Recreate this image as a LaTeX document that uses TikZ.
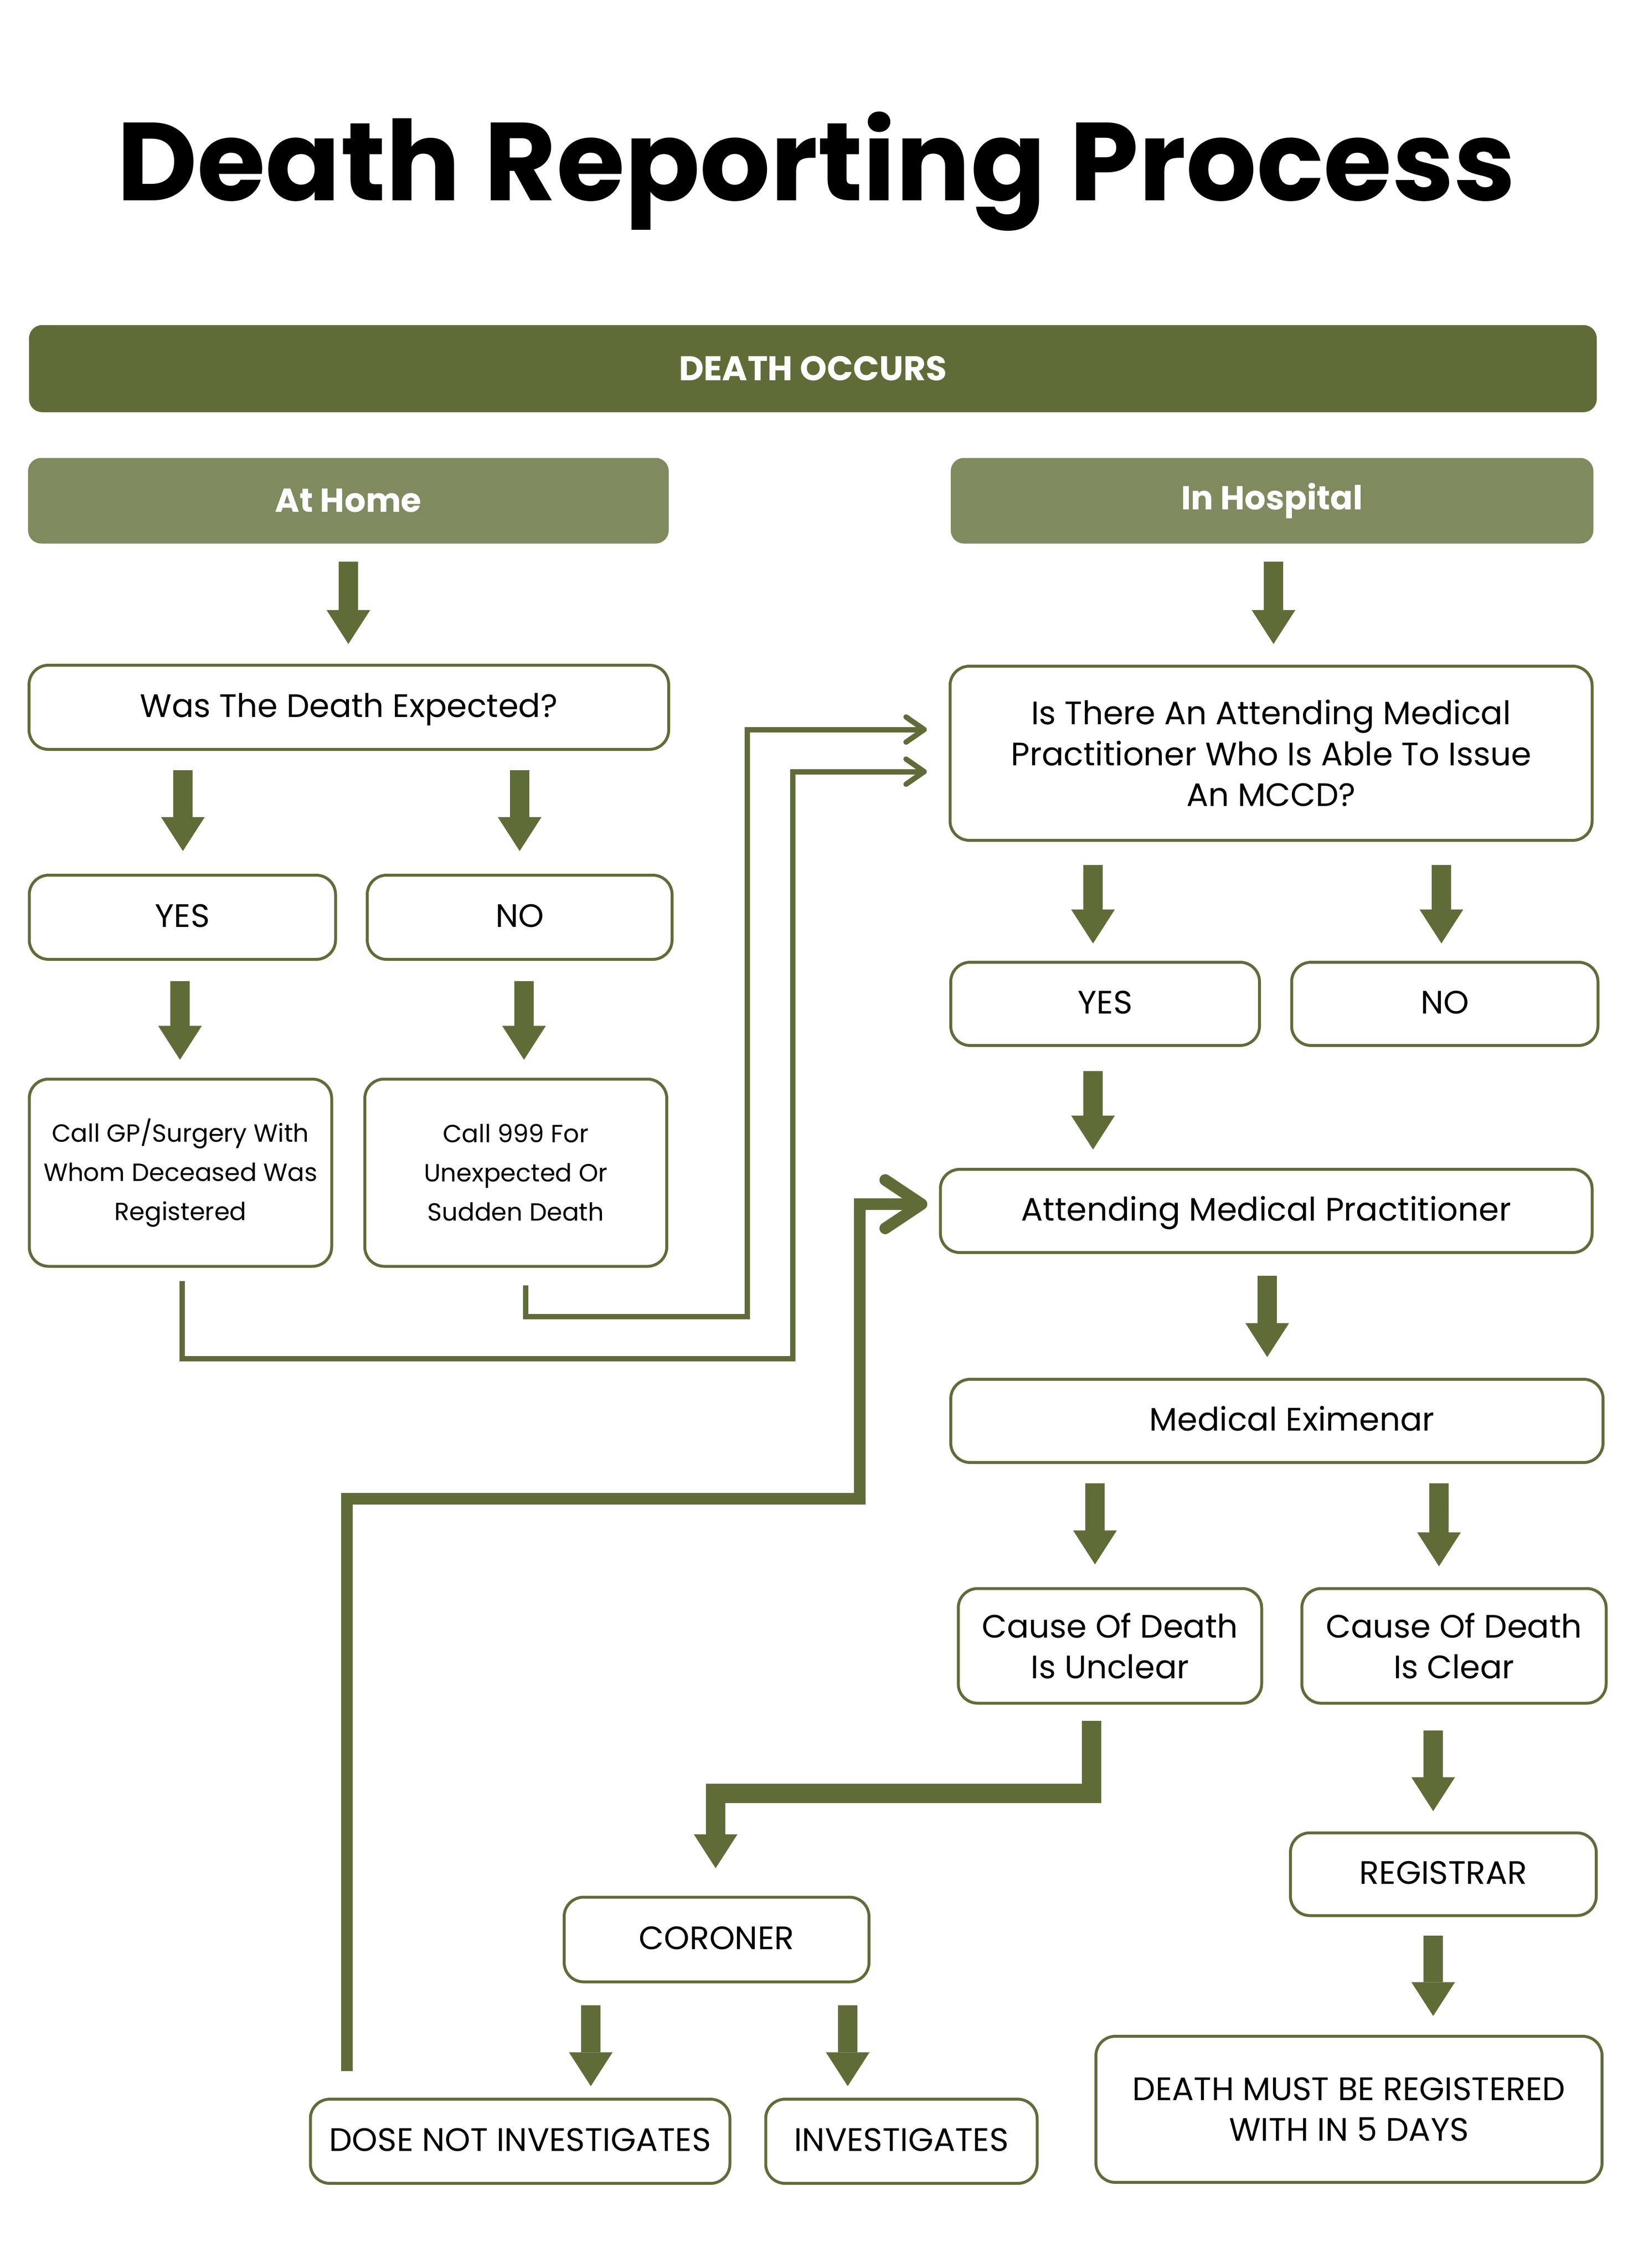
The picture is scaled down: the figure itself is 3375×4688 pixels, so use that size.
\documentclass[tikz,border=0pt]{standalone}
\usepackage{fontspec}
\setmainfont{Poppins}
\usetikzlibrary{arrows.meta,calc}
\definecolor{olv}{HTML}{606C38}
\definecolor{olvl}{HTML}{7F8A5F}
\newcommand\varr[5]{\coordinate (vx) at (#1,0);\draw[blk] ($(#2.south -| vx)+(0,#3)$) -- ($(#4.north -| vx)+(0,-#5)$);}
\begin{document}
\begin{tikzpicture}[x=0.24pt,y=-0.24pt,
  sz/.style 2 args={minimum width=#1*0.24pt, minimum height=#2*0.24pt},
  box/.style={draw=olv, line width=1.44pt, rounded corners=9.6pt, fill=white, inner sep=0pt, align=center, font=\fontsize{16.1}{20.3}\selectfont},
  one/.style={text height=10pt, text depth=0pt},
  small/.style={font=\fontsize{12.3}{19.4}\selectfont},
  hdr/.style={fill=olvl, rounded corners=6.5pt, inner sep=0pt, text=white, font=\fontsize{16.5}{20}\selectfont\bfseries},
  blk/.style={draw=olv, line width=9.6pt, -{Triangle[width=21.6pt,length=16.8pt,line width=0.1pt]}},
  conn/.style={draw=olv, line width=2.64pt, -{Straight Barb[round,length=9pt,width=12.5pt]}},
  connb/.style={draw=olv, line width=5.76pt, -{Straight Barb[round,length=18pt,width=24pt]}},
]
\useasboundingbox (0,0) rectangle (3375,4688);

\node[font=\fontsize{55}{60}\selectfont\bfseries, anchor=base, inner sep=0pt] (title) at (1687,415) {Death Reporting Process};
\node[hdr, fill=olv, sz={3240}{180}, font=\fontsize{17}{20}\selectfont\bfseries] (occurs) at (1680,762) {DEATH OCCURS};
\node[hdr, sz={1324}{177}] (home) at (720,1035) {At Home};
\node[hdr, sz={1328}{177}] (hosp) at (2629,1035) {In Hospital};

\node[box, one, sz={1322}{174}] (expected) at (721,1462) {Was The Death Expected?};
\node[box, one, sz={633}{174}] (yes1) at (377,1896) {YES};
\node[box, one, sz={630}{174}] (no1) at (1074,1896) {NO};
\node[box, small, sz={625}{387}] (gp) at (373,2424) {Call GP/Surgery With\\Whom Deceased Was\\Registered};
\node[box, small, sz={624}{387}] (c999) at (1066,2424) {Call 999 For\\Unexpected Or\\Sudden Death};

\node[box, sz={1327}{360}] (mccd) at (2627,1557) {Is There An Attending Medical\\Practitioner Who Is Able To Issue\\An MCCD?};
\node[box, one, sz={638}{172}] (yes2) at (2284,2075) {YES};
\node[box, one, sz={633}{172}] (no2) at (2986,2075) {NO};
\node[box, one, sz={1347}{172}] (amp) at (2617,2503) {Attending Medical Practitioner};
\node[box, one, sz={1348}{172}] (mex) at (2639,2937) {\hspace*{15pt}Medical Eximenar};
\node[box, sz={627}{237}] (unclear) at (2294,3402) {Cause Of Death\\Is Unclear};
\node[box, sz={629}{237}] (clear) at (3005,3402) {Cause Of Death\\Is Clear};
\node[box, one, sz={632}{171}] (registrar) at (2983,3874) {REGISTRAR};
\node[box, sz={1046}{302}] (must) at (2788,4360) {DEATH MUST BE REGISTERED\\WITH IN 5 DAYS};
\node[box, one, sz={630}{175}] (coroner) at (1481,4009) {CORONER};
\node[box, one, sz={867}{174}] (dose) at (1075,4426) {DOSE NOT INVESTIGATES};
\node[box, one, sz={561}{174}] (invest) at (1863,4426) {INVESTIGATES};

\varr{720}{home}{37}{expected}{41}
\varr{2632}{hosp}{37}{mccd}{43}
\varr{378}{expected}{40}{yes1}{47}
\varr{1074}{expected}{40}{no1}{47}
\varr{372}{yes1}{42}{gp}{37}
\varr{1083}{no1}{42}{c999}{37}
\varr{2259}{mccd}{48}{yes2}{36}
\varr{2979}{mccd}{48}{no2}{36}
\varr{2259}{yes2}{50}{amp}{38}
\varr{2619}{amp}{45}{mex}{43}
\varr{2263}{mex}{40}{unclear}{47}
\varr{2974}{mex}{40}{clear}{43}
\varr{2962}{clear}{53}{registrar}{42}
\varr{2962}{registrar}{38}{must}{39}
\varr{1221}{coroner}{45}{dose}{24}
\varr{1752}{coroner}{45}{invest}{24}

\coordinate (s1) at ($(c999.south)+(20,36)$);
\coordinate (e1) at ($(mccd.west)+(-45,-49)$);
\draw[conn] (s1) |- (1544,2721) |- (e1);
\coordinate (s2) at ($(gp.south)+(3,27)$);
\coordinate (e2) at ($(mccd.west)+(-45,38)$);
\draw[conn] (s2) |- (1638,2808) |- (e2);
\coordinate (s3) at ($(dose.north)+(-358,-55)$);
\coordinate (e3) at ($(amp.west)+(-24,-14)$);
\draw[connb] (s3) |- (1777,3098) |- (e3);
\coordinate (s4) at ($(unclear.south)+(-38,33)$);
\coordinate (t4) at ($(coroner.north)+(-2,-57)$);
\draw[blk] (s4) -- ++(0,150) -| (t4);
\end{tikzpicture}
\end{document}
